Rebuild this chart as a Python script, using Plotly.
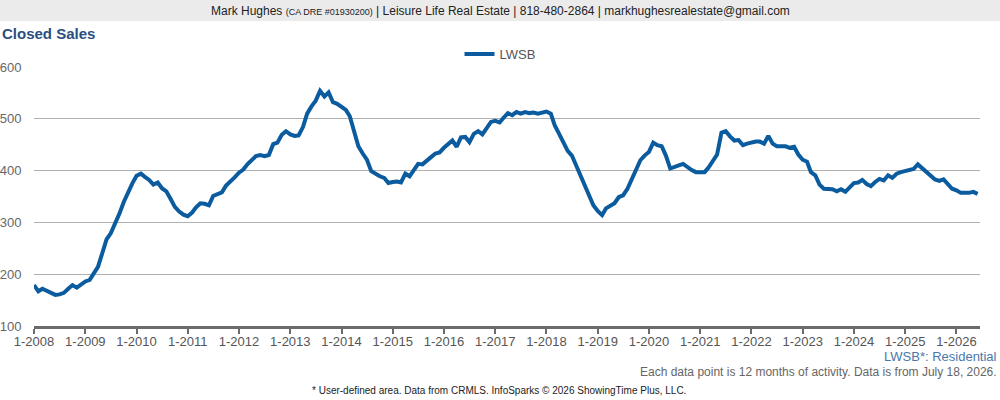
import pandas as pd
import plotly.graph_objects as go

# Closed sales, rolling 12 months, one value per month from 1-2008 to 6-2026
closed_sales = [
    179, 167, 172, 168, 166, 160, 161, 164, 172, 179, 174, 181,  # 2008
    186, 189, 200, 214, 240, 267, 279, 297, 317, 339, 358, 375,  # 2009
    390, 394, 388, 382, 373, 377, 366, 360, 345, 330, 321, 315,  # 2010
    312, 319, 329, 337, 336, 333, 351, 355, 358, 371, 378, 387,  # 2011
    396, 402, 412, 420, 428, 430, 428, 430, 451, 454, 469, 476,  # 2012
    470, 467, 468, 484, 510, 524, 535, 554, 543, 551, 532, 529,  # 2013
    523, 517, 505, 475, 447, 433, 421, 399, 393, 389, 386, 376,  # 2014
    378, 379, 377, 394, 389, 400, 413, 412, 418, 426, 433, 435,  # 2015
    444, 451, 458, 446, 464, 465, 455, 471, 476, 470, 481, 494,  # 2016
    496, 493, 502, 511, 507, 513, 510, 513, 511, 512, 510, 512,  # 2017
    514, 510, 487, 471, 455, 438, 429, 410, 388, 368, 352, 333,  # 2018
    322, 314, 327, 332, 337, 349, 352, 365, 384, 401, 420, 429,  # 2019
    436, 454, 449, 447, 429, 404, 408, 410, 413, 406, 401, 397,  # 2020
    397, 397, 406, 420, 431, 473, 476, 466, 458, 459, 449, 452,  # 2021
    455, 456, 456, 452, 467, 452, 447, 447, 447, 444, 446, 431,  # 2022
    421, 417, 397, 391, 373, 365, 365, 364, 360, 364, 359, 368,  # 2023
    376, 377, 382, 374, 370, 378, 384, 381, 391, 386, 394, 397,  # 2024
    399, 401, 403, 412, 405, 398, 391, 383, 380, 383, 374, 365,  # 2025
    362, 357, 357, 357, 359, 355,                                # 2026
]
months = pd.date_range("2008-01-01", periods=len(closed_sales), freq="MS")

tick_years = list(range(2008, 2027))
tick_dates = [f"{y}-01-01" for y in tick_years]
tick_labels = [f"1-{y}" for y in tick_years]
y_ticks = [100, 200, 300, 400, 500, 600]

# plot area in pixels (1000 x 400 page)
L, R, T, B = 34, 980, 67, 326


def px_x(x):
    return (x - L) / (R - L)


def px_y(y):
    return (B - y) / (B - T)


FONT = "Liberation Sans, Arial, sans-serif"

fig = go.Figure()
fig.add_trace(go.Scatter(
    x=months, y=closed_sales, mode="lines", name="LWSB",
    line=dict(color="#0b5b9f", width=4),
))

fig.update_layout(
    width=1000, height=400,
    margin=dict(l=L, r=1000 - R, t=T, b=400 - B, autoexpand=False),
    paper_bgcolor="white", plot_bgcolor="white",
    font=dict(family=FONT, color="#666666", size=13),
    showlegend=True,
    legend=dict(
        orientation="h", xref="paper", yref="paper",
        x=px_x(500), xanchor="center", y=px_y(54), yanchor="middle",
        font=dict(size=13, color="#555555"),
        itemwidth=30, bgcolor="rgba(0,0,0,0)",
    ),
    xaxis=dict(
        type="date", range=["2008-01-01", "2026-06-18"],
        tickvals=tick_dates, ticktext=tick_labels,
        showgrid=False, zeroline=False,
        showline=True, linewidth=3, linecolor="#6b6b6b",
        ticks="outside", ticklen=5, tickwidth=2, tickcolor="#6b6b6b",
        ticklabelstandoff=-4,
        tickfont=dict(size=13, color="#555555"),
    ),
    yaxis=dict(
        range=[100, 600], tickvals=y_ticks,
        showgrid=True, gridcolor="#b0b0b0", gridwidth=1,
        zeroline=False, showline=False,
        ticks="outside", ticklen=9, tickcolor="rgba(0,0,0,0)",
        tickfont=dict(size=13, color="#666666"),
    ),
)

# header band
fig.add_shape(
    type="rect", xref="paper", yref="paper",
    x0=px_x(0), x1=px_x(1000), y0=px_y(21), y1=px_y(0),
    fillcolor="#ebebeb", line=dict(width=0), layer="below",
)

annotations = [
    dict(text='Mark Hughes <span style="font-size:9px">(CA DRE #01930200)</span> | '
              'Leisure Life Real Estate | 818-480-2864 | markhughesrealestate@gmail.com',
         x=px_x(500), y=px_y(11), xanchor="center", yanchor="middle",
         font=dict(size=12, color="#222222")),
    dict(text="<b>Closed Sales</b>", x=px_x(0), y=px_y(33),
         xanchor="left", yanchor="middle",
         font=dict(size=15, color="#2b4f7e")),
    dict(text="LWSB*: Residential", x=px_x(999), y=px_y(356),
         xanchor="right", yanchor="middle",
         font=dict(size=13, color="#4a78ab")),
    dict(text="Each data point is 12 months of activity. Data is from July 18, 2026.",
         x=px_x(999), y=px_y(372), xanchor="right", yanchor="middle",
         font=dict(size=12, color="#666666")),
    dict(text="* User-defined area. Data from CRMLS. InfoSparks © 2026 ShowingTime Plus, LLC.",
         x=px_x(499), y=px_y(390), xanchor="center", yanchor="middle",
         font=dict(size=10, color="#222222")),
]
for a in annotations:
    fig.add_annotation(xref="paper", yref="paper", showarrow=False, **a)

# page has a default body margin; drop it so the figure sits at the window corner
fig.write_html("out.html", config={"displayModeBar": False},
               post_script="document.body.style.margin='0';")
